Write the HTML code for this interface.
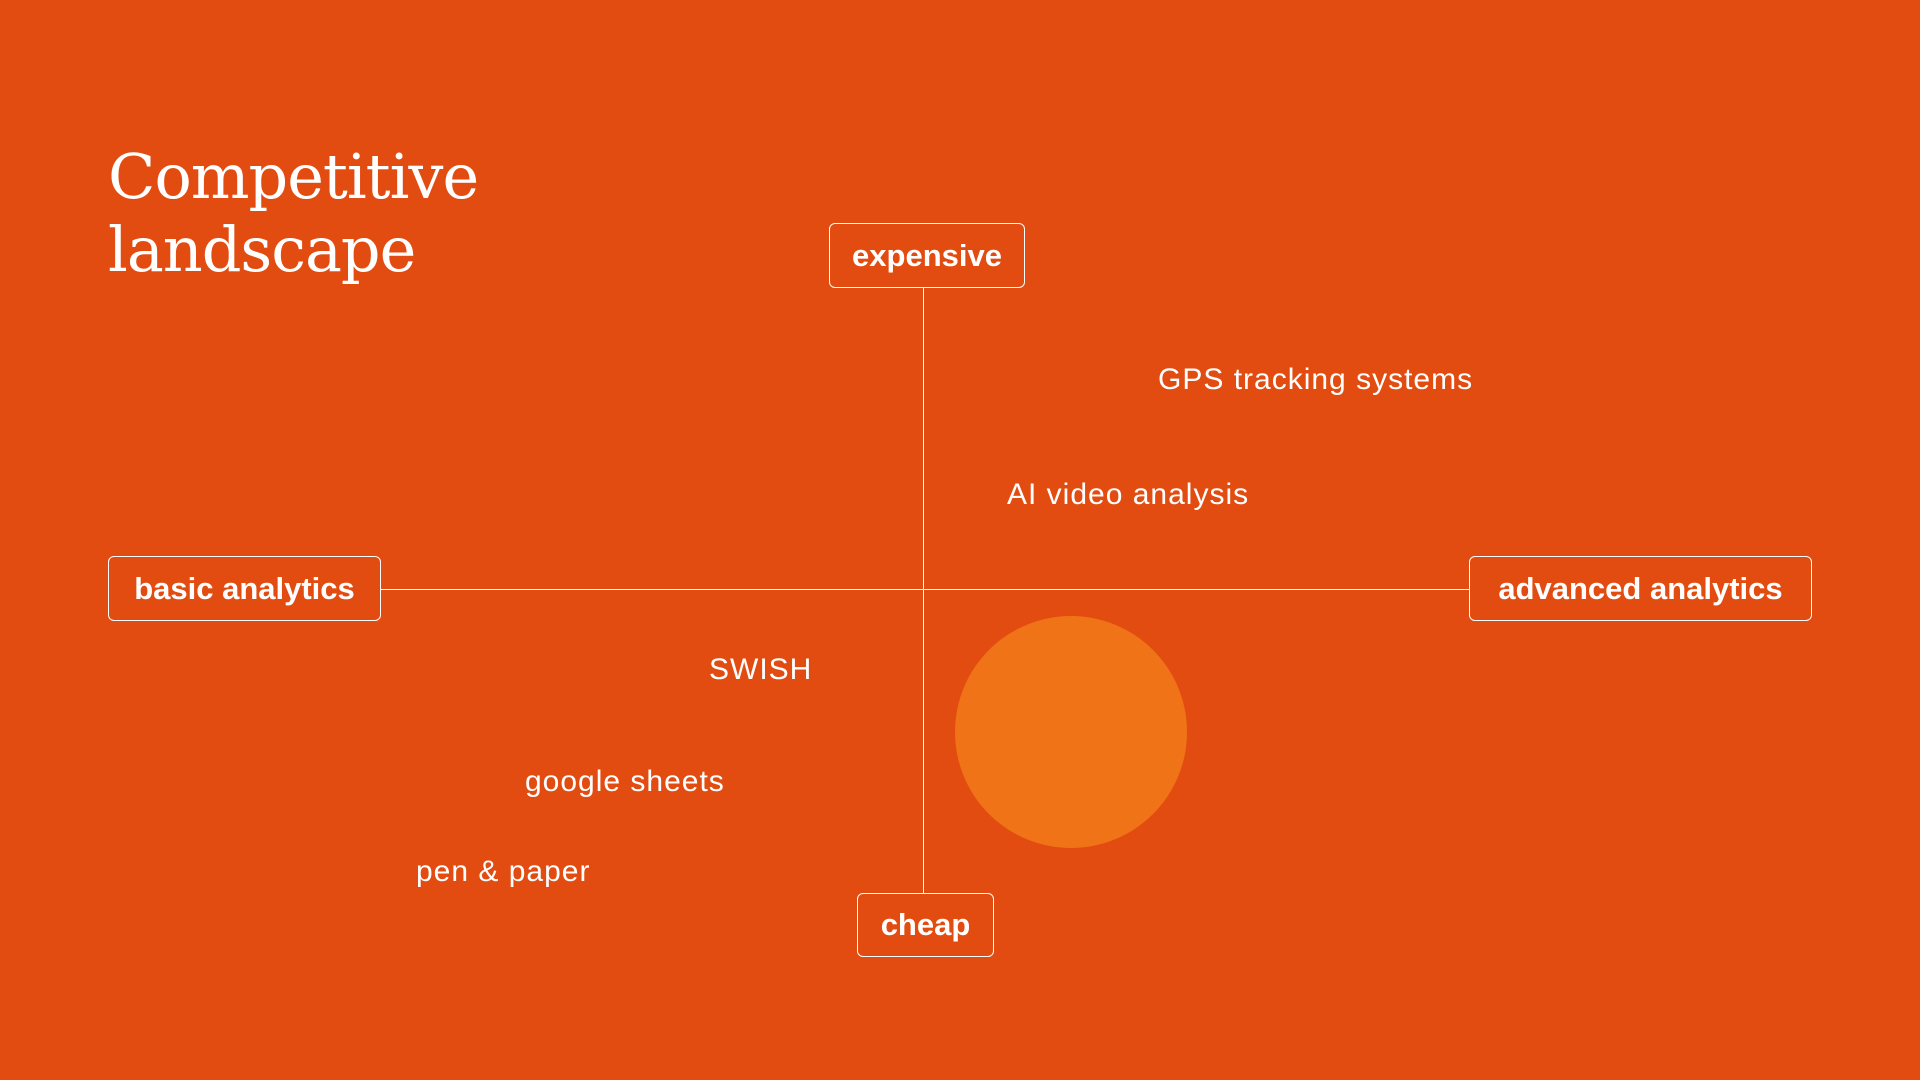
<!DOCTYPE html>
<html><head><meta charset="utf-8"><style>
body{margin:0;width:1920px;height:1080px;background:#e34c11;position:relative;overflow:hidden;font-family:"Liberation Sans",sans-serif;color:#fff}
.t{position:absolute;left:108px;top:140px;font-family:"DejaVu Serif","Liberation Serif",serif;font-size:62px;line-height:73px;letter-spacing:-1px}
.box{position:absolute;border:1.5px solid #fff;border-radius:6px;box-sizing:border-box;display:flex;align-items:center;justify-content:center;font-weight:bold;font-size:31px}
.l{position:absolute;font-size:30px;letter-spacing:1px;line-height:1;transform:translateY(-50%);white-space:nowrap}
.h{position:absolute;background:#fff}
</style></head><body>
<div class="t">Competitive<br>landscape</div>
<div class="h" style="left:923px;top:288px;width:1px;height:605px"></div>
<div class="h" style="left:381px;top:589px;width:1088px;height:1px"></div>
<div style="position:absolute;left:955px;top:616px;width:232px;height:232px;border-radius:50%;background:#f07318"></div>
<div class="box" style="left:829px;top:223px;width:196px;height:65px">expensive</div>
<div class="box" style="left:857px;top:893px;width:137px;height:64px">cheap</div>
<div class="box" style="left:108px;top:556px;width:273px;height:65px">basic analytics</div>
<div class="box" style="left:1469px;top:556px;width:343px;height:65px">advanced analytics</div>
<div class="l" style="left:1158px;top:380px">GPS tracking systems</div>
<div class="l" style="left:1007px;top:495px">AI video analysis</div>
<div class="l" style="left:709px;top:670px">SWISH</div>
<div class="l" style="left:525px;top:782px">google sheets</div>
<div class="l" style="left:416px;top:872px">pen &amp; paper</div>
</body></html>
